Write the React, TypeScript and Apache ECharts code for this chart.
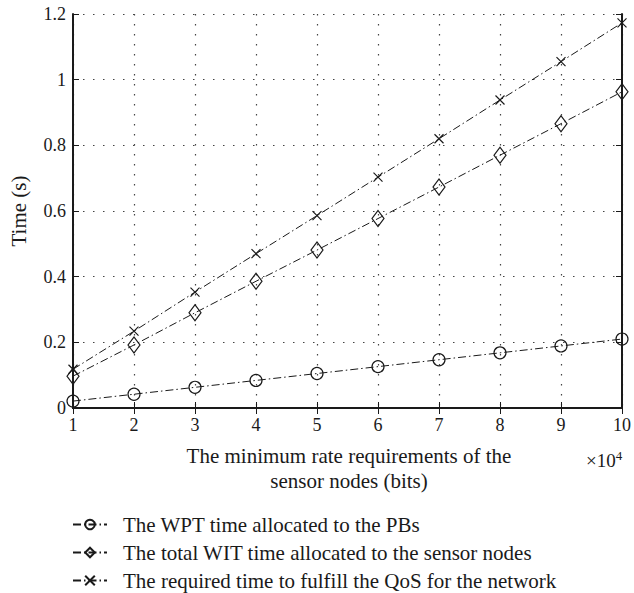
import React, { useEffect, useRef } from "react";
import * as echarts from "echarts";

const xValues = [1, 2, 3, 4, 5, 6, 7, 8, 9, 10];
const wptTime = [0.021, 0.042, 0.063, 0.084, 0.105, 0.126, 0.147, 0.168, 0.189, 0.21];
const witTime = [0.097, 0.192, 0.29, 0.386, 0.481, 0.577, 0.673, 0.77, 0.866, 0.963];
const qosTime = [0.118, 0.234, 0.353, 0.47, 0.586, 0.703, 0.82, 0.938, 1.055, 1.173];
const seriesNames = [
  "The WPT time allocated to the PBs",
  "The total WIT time allocated to the sensor nodes",
  "The required time to fulfill the QoS for the network",
];
const xAxisTitle = "The minimum rate requirements of the\nsensor nodes (bits)";
const yAxisTitle = "Time (s)";

const FONT = "'Liberation Serif', 'DejaVu Serif', serif";
const CROSS = "path://M0,0L10,10M10,0L0,10";

export default function App() {
  const ref = useRef<HTMLDivElement>(null);
  useEffect(() => {
    document.body.style.margin = "0";
    if (!ref.current) return;
    const chart = echarts.init(ref.current, null, { renderer: "svg" });
    const mk = (name: string, vals: number[], symbol: string, size: number | number[]) => ({
      name,
      type: "line",
      data: xValues.map((x, i) => [x, vals[i]]),
      symbol,
      symbolSize: size,
      showAllSymbol: true,
      lineStyle: { color: "#1a1a1a", width: 1, type: [8, 3, 1.5, 3] },
      itemStyle: { color: "rgba(255,255,255,0)", borderColor: "#1a1a1a", borderWidth: 1.2 },
      emphasis: { disabled: true },
      z: 3,
    });
    const axisCommon = {
      axisLine: { show: true, lineStyle: { color: "#1a1a1a", width: 2 } },
      axisTick: { show: true, inside: true, length: 6, lineStyle: { color: "#1a1a1a", width: 1 } },
    };
    const dotted = { show: true, lineStyle: { color: "#444", width: 1.2, type: [1.5, 8.5] } };
    chart.setOption({
      animation: false,
      backgroundColor: "#fff",
      grid: { left: 71, top: 14, width: 553, height: 394, show: false },
      xAxis: [
        {
          type: "value",
          min: 1,
          max: 10,
          interval: 1,
          ...axisCommon,
          axisLabel: { color: "#1a1a1a", fontFamily: FONT, fontSize: 18, margin: 8 },
          splitLine: dotted,
        },
        {
          type: "value",
          position: "top",
          min: 1,
          max: 10,
          interval: 1,
          ...axisCommon,
          axisLabel: { show: false },
          splitLine: { show: false },
        },
      ],
      yAxis: [
        {
          type: "value",
          min: 0,
          max: 1.2,
          interval: 0.2,
          ...axisCommon,
          name: yAxisTitle,
          nameLocation: "middle",
          nameGap: 44,
          nameRotate: 90,
          nameTextStyle: { color: "#1a1a1a", fontFamily: FONT, fontSize: 21 },
          axisLabel: {
            color: "#1a1a1a",
            fontFamily: FONT,
            fontSize: 18,
            margin: 7,
            formatter: (v: number) => String(Math.round(v * 10) / 10),
          },
          splitLine: dotted,
        },
        {
          type: "value",
          position: "right",
          min: 0,
          max: 1.2,
          interval: 0.2,
          ...axisCommon,
          axisLabel: { show: false },
          splitLine: { show: false },
        },
      ],
      legend: {
        orient: "vertical",
        left: 72,
        top: 514,
        height: 120,
        itemWidth: 34,
        itemHeight: 12,
        itemGap: 7,
        padding: 0,
        textStyle: { color: "#1a1a1a", fontFamily: FONT, fontSize: 21, padding: [0, 0, 0, 11] },
        data: seriesNames,
      },
      graphic: [
        {
          type: "text",
          x: 349,
          y: 443,
          style: {
            text: xAxisTitle,
            fill: "#1a1a1a",
            font: `21px ${FONT}`,
            align: "center",
            verticalAlign: "top",
            lineHeight: 25,
          },
        },
        {
          type: "text",
          x: 586,
          y: 449,
          style: {
            text: "×10{s|4}",
            fill: "#1a1a1a",
            font: `19px ${FONT}`,
            rich: { s: { fontSize: 13, fontFamily: FONT, fill: "#1a1a1a", padding: [0, 0, 10, 0] } },
          },
        },
      ],
      series: [
        mk(seriesNames[0], wptTime, "circle", 12),
        mk(seriesNames[1], witTime, "diamond", [12, 16]),
        mk(seriesNames[2], qosTime, CROSS, 9),
      ],
    });
    return () => chart.dispose();
  }, []);
  return <div ref={ref} style={{ width: 634, height: 593 }} />;
}
